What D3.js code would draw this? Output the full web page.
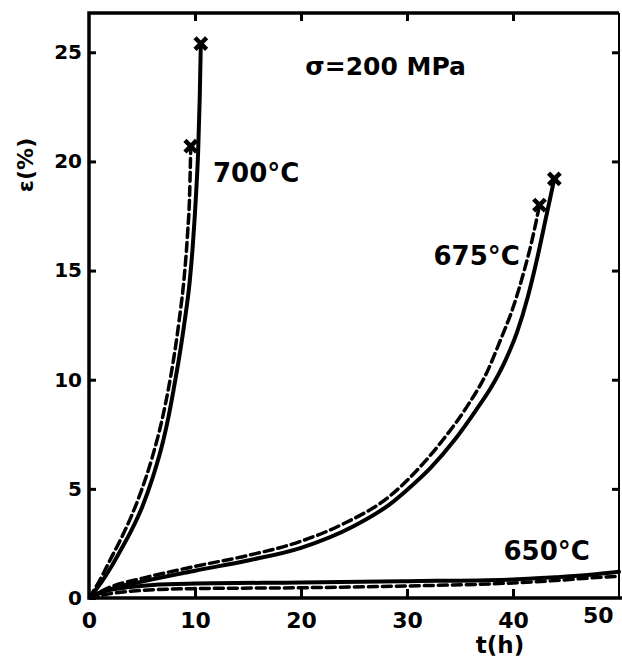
<!DOCTYPE html>
<html>
<head>
<meta charset="utf-8">
<script src="https://cdn.jsdelivr.net/npm/d3@7"></script>
<style>
  body { margin: 0; background: #fff; }
  svg { display: block; }
  text { font-family: "DejaVu Sans", sans-serif; font-weight: bold; fill: #000; }
</style>
</head>
<body>
<svg id="chart" width="622" height="657"></svg>
<script>
// creep curves, sigma = 200 MPa
const t700Solid = [0, 1, 2, 3, 4, 5, 6, 7, 7.5, 8, 8.5, 9, 9.5, 9.8, 10.1, 10.3, 10.45, 10.55];
const e700Solid = [0, 0.6, 1.35, 2.2, 3.1, 4.15, 5.5, 7.2, 8.3, 9.6, 11.0, 12.6, 14.5, 16.2, 18.5, 20.5, 23.0, 25.4];
const t700Dash = [0, 1, 2, 3, 4, 5, 6, 7, 7.5, 8, 8.5, 9, 9.3, 9.5, 9.6];
const e700Dash = [0, 0.8, 1.75, 2.7, 3.75, 5.0, 6.5, 8.4, 9.6, 11.0, 12.7, 14.8, 16.7, 18.6, 20.7];

const t675Solid = [0, 2, 5, 10, 15, 20, 25, 28.4, 30, 32.2, 34.5, 36.5, 38, 39.3, 40.4, 41.4, 42.3, 43.1, 43.9];
const e675Solid = [0, 0.4, 0.75, 1.25, 1.72, 2.3, 3.3, 4.3, 4.95, 5.95, 7.25, 8.6, 9.7, 10.9, 12.2, 13.8, 15.6, 17.4, 19.2];
const t675Dash = [0, 2, 5, 10, 15, 20, 24, 28.2, 31.6, 33.4, 35.7, 37.5, 38.8, 40, 41, 41.8, 42.5];
const e675Dash = [0, 0.5, 0.9, 1.45, 1.95, 2.6, 3.4, 4.6, 6.2, 7.25, 8.8, 10.3, 11.8, 13.3, 14.9, 16.4, 18.0];

const t650Solid = [0, 1, 3, 6, 10, 20, 30, 39.5, 44, 47.3, 50];
const e650Solid = [0, 0.25, 0.45, 0.6, 0.66, 0.71, 0.77, 0.84, 0.95, 1.06, 1.2];
const t650Dash = [0, 2, 5, 10, 20, 30, 39.5, 44, 47.3, 50];
const e650Dash = [0, 0.2, 0.35, 0.43, 0.47, 0.55, 0.68, 0.8, 0.92, 1.0];

const xTicks = [0, 10, 20, 30, 40, 50];
const yTicks = [0, 5, 10, 15, 20, 25];

// labels: [text, t, eps]
const curveLabels = [
  ["700°C", 11.7, 19.06],
  ["675°C", 32.5, 15.25],
  ["650°C", 39.1, 1.74]
];
const stressLabel = ["σ=200 MPa", 20.4, 23.96];

const svg = d3.select("#chart");
const mLeft = 89, mRight = 619, mTop = 13, mBottom = 598;

const x = d3.scaleLinear().domain([0, 50]).range([mLeft, mRight]);
const y = d3.scaleLinear().domain([0, 26.8]).range([mBottom, mTop]);

const zip = (ts, es) => ts.map((t, i) => [t, es[i]]);

const series = [
  { pts: zip(t700Solid, e700Solid), dash: false, end: true },
  { pts: zip(t700Dash, e700Dash), dash: true, end: true },
  { pts: zip(t675Solid, e675Solid), dash: false, end: true },
  { pts: zip(t675Dash, e675Dash), dash: true, end: true },
  { pts: zip(t650Solid, e650Solid), dash: false, end: false },
  { pts: zip(t650Dash, e650Dash), dash: true, end: false }
];

svg.append("clipPath").attr("id", "clip")
  .append("rect").attr("x", mLeft).attr("y", mTop - 20)
  .attr("width", 622 - mLeft).attr("height", mBottom - mTop + 20);

const line = d3.line()
  .x(d => x(d[0]))
  .y(d => y(d[1]))
  .curve(d3.curveMonotoneX);

const g = svg.append("g").attr("clip-path", "url(#clip)");

g.selectAll(".curve")
  .data(series)
  .enter()
  .append("path")
  .attr("class", "curve")
  .attr("d", d => line(d.pts))
  .attr("fill", "none")
  .attr("stroke", "#000")
  .attr("stroke-width", d => d.dash ? 3.5 : 4)
  .attr("stroke-dasharray", d => d.dash ? "9,5" : null)
  .attr("stroke-linecap", "round");

// rupture crosses
svg.selectAll(".cross")
  .data(series.filter(d => d.end))
  .enter()
  .append("path")
  .attr("class", "cross")
  .attr("transform", d => {
    const p = d.pts[d.pts.length - 1];
    return "translate(" + x(p[0]) + "," + y(p[1]) + ")";
  })
  .attr("d", d3.symbol(d3.symbolX, 90))
  .attr("fill", "none")
  .attr("stroke", "#000")
  .attr("stroke-width", 4.5);

// axes: ticks pointing inward
const axLeft = svg.append("g")
  .attr("transform", "translate(" + mLeft + ",0)")
  .call(d3.axisLeft(y).tickValues(yTicks).tickSize(-7).tickPadding(7));
const axBottom = svg.append("g")
  .attr("transform", "translate(0," + mBottom + ")")
  .call(d3.axisBottom(x).tickValues(xTicks).tickSize(-9).tickPadding(14));
svg.append("g")
  .attr("transform", "translate(0," + mTop + ")")
  .call(d3.axisTop(x).tickValues(xTicks.slice(1, 5)).tickSize(-8).tickFormat(""));
svg.append("g")
  .attr("transform", "translate(" + mRight + ",0)")
  .call(d3.axisRight(y).tickValues(yTicks.slice(1)).tickSize(-7).tickFormat(""));

svg.selectAll(".domain").remove();
svg.selectAll(".tick line").attr("stroke", "#000").attr("stroke-width", 3);
svg.selectAll(".tick text")
  .style("font-family", "'DejaVu Sans', sans-serif")
  .style("font-weight", "bold")
  .attr("fill", "#000");
axLeft.selectAll(".tick text").style("font-size", "20px");
axBottom.selectAll(".tick text").style("font-size", "22px");
axBottom.selectAll(".tick")
  .filter(d => d === 50)
  .select("text")
  .attr("text-anchor", "end")
  .attr("x", -6)
  .attr("dy", "0.5em");
axBottom.selectAll(".tick").filter(d => d === 0 || d === 50).select("line").remove();

// frame
svg.append("path")
  .attr("d", "M" + mRight + "," + mTop + "H" + mLeft + "V" + mBottom + "H" + 622)
  .attr("fill", "none")
  .attr("stroke", "#000")
  .attr("stroke-width", 3.5);
svg.append("line")
  .attr("x1", mRight).attr("x2", mRight)
  .attr("y1", mTop).attr("y2", mBottom)
  .attr("stroke", "#000").attr("stroke-width", 2);

// annotations
svg.selectAll(".clabel")
  .data(curveLabels)
  .enter()
  .append("text")
  .attr("class", "clabel")
  .attr("x", d => x(d[1]))
  .attr("y", d => y(d[2]))
  .style("font-size", "26px")
  .text(d => d[0]);

svg.append("text")
  .attr("x", x(stressLabel[1]))
  .attr("y", y(stressLabel[2]))
  .style("font-size", "25px")
  .text(stressLabel[0]);

svg.append("text")
  .attr("transform", "translate(33,165) rotate(-90)")
  .attr("text-anchor", "middle")
  .style("font-size", "22px")
  .text("ε(%)");

svg.append("text")
  .attr("x", 500)
  .attr("y", 653)
  .attr("text-anchor", "middle")
  .style("font-size", "23px")
  .text("t(h)");
</script>
</body>
</html>
